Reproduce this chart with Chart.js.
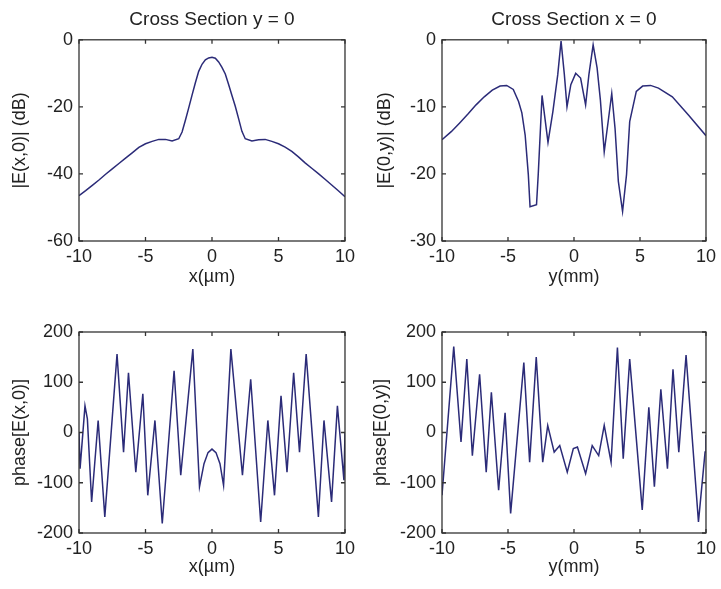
<!DOCTYPE html>
<html>
<head>
<meta charset="utf-8">
<script src="https://cdn.jsdelivr.net/npm/chart.js@4"></script>
<style>
  html, body { margin: 0; padding: 0; background: #fff; }
  #wrap { position: relative; width: 721px; height: 589px; overflow: hidden; }
  canvas { position: absolute; }
</style>
</head>
<body>
<div id="wrap">
  <canvas id="ampX" width="360" height="295" style="left:0;top:0"></canvas>
  <canvas id="ampY" width="361" height="295" style="left:360px;top:0"></canvas>
  <canvas id="phaseX" width="360" height="294" style="left:0;top:295px"></canvas>
  <canvas id="phaseY" width="361" height="294" style="left:360px;top:295px"></canvas>
</div>
<script>
// tick values
const xTickValues = [-10, -5, 0, 5, 10];
const ampXTicks = [-60, -40, -20, 0];
const ampYTicks = [-30, -20, -10, 0];
const phaseTicks = [-200, -100, 0, 100, 200];

// |E(x,0)| in dB, cross section y = 0
const ampXPos = [-10, -9.5, -9, -8.5, -8, -7.5, -7, -6.5, -6, -5.5, -5, -4.5, -4, -3.5, -3, -2.5, -2.25, -2, -1.75, -1.5, -1.25, -1, -0.75, -0.5, -0.25, 0,
  0.25, 0.5, 0.75, 1, 1.25, 1.5, 1.75, 2, 2.25, 2.5, 3, 3.5, 4, 4.5, 5, 5.5, 6, 6.5, 7, 7.5, 8, 8.5, 9, 9.5, 10];
const ampXdB = [-46.5, -45, -43.4, -41.8, -40.1, -38.5, -36.9, -35.3, -33.7, -32.1, -31, -30.3, -29.7, -29.7, -30.2, -29.5, -27.5, -24, -20.3, -16.5, -12.8, -9.4, -7.3, -6, -5.4, -5.2,
  -5.5, -6.6, -8.2, -10.2, -13.3, -16.6, -19.8, -23.5, -27.3, -29.5, -30.2, -29.8, -29.7, -30.3, -31, -32, -33.3, -34.9, -36.7, -38.3, -39.9, -41.6, -43.3, -45, -46.8];

// |E(0,y)| in dB, cross section x = 0
const ampYPos = [-10, -9.3, -8.66, -8, -7.42, -6.8, -6.19, -5.6, -5.1, -4.6, -4.2, -3.95, -3.7, -3.46, -3.33, -2.84, -2.71, -2.42, -1.97, -1.6, -1.23, -0.98, -0.73, -0.53, -0.24, 0.13,
  0.5, 0.88, 1.13, 1.45, 1.75, 2.0, 2.29, 2.62, 2.86, 3.11, 3.36, 3.68, 3.98, 4.22, 4.72, 5.2, 5.8, 6.4, 7.45, 8.67, 10];
const ampYdB = [-14.9, -13.7, -12.4, -11, -9.7, -8.5, -7.5, -6.9, -6.8, -7.4, -9.2, -10.9, -14.2, -20.1, -24.9, -24.6, -20.1, -8.3, -15.3, -10.7, -5.2, -0.2, -5.2, -10, -6.7, -5,
  -5.7, -9.7, -5.2, -0.75, -4.2, -9, -16.7, -11.7, -8, -13.2, -21.1, -25.6, -20.1, -12.2, -7.7, -6.9, -6.8, -7.2, -8.5, -11.2, -14.3];

// phase[E(x,0)]
const phaseXPos = [-10, -9.92, -9.55, -9.37, -9.05, -8.56, -8.06, -7.14, -6.65, -6.28, -5.73, -5.2, -4.83, -4.29, -3.74, -2.85, -2.35, -1.44, -0.94, -0.6, -0.3, 0,
  0.3, 0.6, 0.87, 1.42, 2.29, 2.91, 3.66, 4.2, 4.7, 5.19, 5.64, 6.14, 6.58, 7.08, 8.0, 8.42, 8.99, 9.43, 9.92, 10];
const phaseXDeg = [0, -72, 53, 27, -138, 24, -168, 156, -39, 119, -79, 77, -125, 24, -181, 123, -85, 166, -108, -62, -40, -33,
  -40, -62, -105, 166, -85, 106, -178, 24, -125, 73, -79, 119, -39, 156, -168, 24, -138, 53, -95, 0];

// phase[E(0,y)]
const phaseYPos = [-10, -9.11, -8.56, -8.12, -7.7, -7.15, -6.65, -6.26, -5.71, -5.22, -4.8, -3.8, -3.36, -2.86, -2.37, -1.99, -1.5, -1.08, -0.51, -0.05, 0.26,
  0.88, 1.38, 1.87, 2.29, 2.81, 3.29, 3.73, 4.22, 5.17, 5.67, 6.09, 6.58, 7.08, 7.5, 7.94, 8.49, 9.43, 9.93, 10];
const phaseYDeg = [-125, 171, -19, 146, -46, 116, -79, 80, -115, 39, -161, 139, -59, 150, -59, 14, -39, -26, -79, -32, -29,
  -82, -26, -46, 14, -59, 169, -52, 146, -154, 50, -108, 86, -72, 126, -39, 154, -178, -39, -5];

const FONT = "'Liberation Sans', Arial, Helvetica, sans-serif";
const TEXT = '#222';
const LINE = '#2b2b78';

// MATLAB style box with inward tick marks
const framePlugin = {
    id: 'frame',
    afterDatasetsDraw(chart) {
        const { ctx, chartArea: a, scales: { x, y } } = chart;
        ctx.save();
        ctx.strokeStyle = '#333';
        ctx.lineWidth = 1.3;
        ctx.beginPath();
        x.ticks.forEach(t => {
            const px = x.getPixelForValue(t.value);
            ctx.moveTo(px, a.top); ctx.lineTo(px, a.top + 4);
            ctx.moveTo(px, a.bottom); ctx.lineTo(px, a.bottom - 4);
        });
        y.ticks.forEach(t => {
            const py = y.getPixelForValue(t.value);
            ctx.moveTo(a.left, py); ctx.lineTo(a.left + 4, py);
            ctx.moveTo(a.right, py); ctx.lineTo(a.right - 4, py);
        });
        ctx.stroke();
        ctx.strokeRect(a.left, a.top, a.right - a.left, a.bottom - a.top);
        ctx.restore();
    }
};

function makePanel(id, p) {
    const points = p.xs.map((v, i) => ({ x: v, y: p.ys[i] }));
    return new Chart(document.getElementById(id), {
        type: 'line',
        data: {
            datasets: [{
                data: points,
                borderColor: LINE,
                borderWidth: 1.5,
                pointRadius: 0,
                tension: 0,
                fill: false
            }]
        },
        options: {
            responsive: false,
            animation: false,
            layout: { padding: { left: 0, right: p.padRight, top: p.padTop, bottom: 0 } },
            plugins: {
                legend: { display: false },
                tooltip: { enabled: false },
                title: {
                    display: !!p.title,
                    text: p.title || '',
                    fullSize: false,
                    color: TEXT,
                    font: { family: FONT, size: 19, weight: 'normal' },
                    padding: { top: 8, bottom: 9 }
                }
            },
            scales: {
                x: {
                    type: 'linear',
                    min: -10,
                    max: 10,
                    afterBuildTicks: s => { s.ticks = xTickValues.map(v => ({ value: v })); },
                    afterFit: s => { s.height = p.xHeight; },
                    grid: { display: false, drawTicks: false },
                    border: { display: false },
                    ticks: { color: TEXT, font: { family: FONT, size: 18 }, padding: 5, maxRotation: 0 },
                    title: {
                        display: true,
                        text: p.xTitle,
                        color: TEXT,
                        font: { family: FONT, size: 18 },
                        padding: { top: 0, bottom: p.xTitlePad }
                    }
                },
                y: {
                    type: 'linear',
                    min: p.yTicks[0],
                    max: p.yTicks[p.yTicks.length - 1],
                    afterBuildTicks: s => { s.ticks = p.yTicks.map(v => ({ value: v })); },
                    afterFit: s => { s.width = p.yWidth; },
                    grid: { display: false, drawTicks: false },
                    border: { display: false },
                    ticks: { color: TEXT, font: { family: FONT, size: 18 }, padding: 6 },
                    title: {
                        display: true,
                        text: p.yTitle,
                        color: TEXT,
                        font: { family: FONT, size: 18 },
                        padding: { top: p.yTitlePad, bottom: 0 }
                    }
                }
            }
        },
        plugins: [framePlugin]
    });
}

makePanel('ampX', {
    xs: ampXPos, ys: ampXdB, yTicks: ampXTicks,
    title: 'Cross Section y = 0', xTitle: 'x(\u00b5m)', yTitle: '|E(x,0)| (dB)',
    yWidth: 79, padRight: 13, padTop: 0, xHeight: 54, xTitlePad: 7, yTitlePad: 9
});
makePanel('ampY', {
    xs: ampYPos, ys: ampYdB, yTicks: ampYTicks,
    title: 'Cross Section x = 0', xTitle: 'y(mm)', yTitle: '|E(0,y)| (dB)',
    yWidth: 82, padRight: 10, padTop: 0, xHeight: 54, xTitlePad: 7, yTitlePad: 14
});
makePanel('phaseX', {
    xs: phaseXPos, ys: phaseXDeg, yTicks: phaseTicks,
    title: null, xTitle: 'x(\u00b5m)', yTitle: 'phase[E(x,0)]',
    yWidth: 79, padRight: 13, padTop: 37, xHeight: 56, xTitlePad: 11, yTitlePad: 9
});
makePanel('phaseY', {
    xs: phaseYPos, ys: phaseYDeg, yTicks: phaseTicks,
    title: null, xTitle: 'y(mm)', yTitle: 'phase[E(0,y)]',
    yWidth: 82, padRight: 10, padTop: 37, xHeight: 56, xTitlePad: 11, yTitlePad: 10
});
</script>
</body>
</html>
